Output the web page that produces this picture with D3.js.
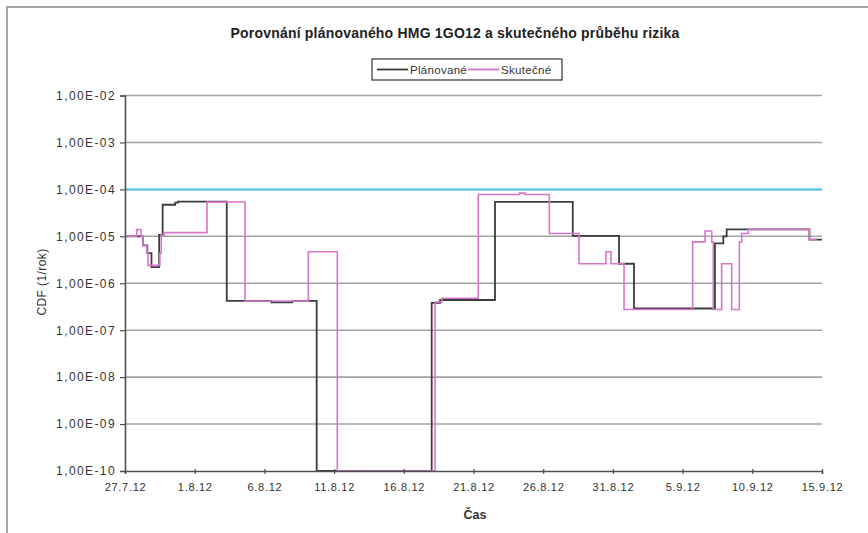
<!DOCTYPE html>
<html>
<head>
<meta charset="utf-8">
<script src="https://cdn.jsdelivr.net/npm/d3@7"></script>
<style>
  body { margin: 0; background: #fff; }
  svg { display: block; font-family: "Liberation Sans", Arial, sans-serif; }
</style>
</head>
<body>
<svg id="chart" width="868" height="533"></svg>
<script>
// Chart texts
var title = 'Porovnání plánovaného HMG 1GO12 a skutečného průběhu rizika';
var seriesNames = ['Plánované', 'Skutečné'];
var xTitle = 'Čas';
var yTitle = 'CDF (1/rok)';

// Axis ticks (x in days from 27.7.12)
var xTickDays = [0, 5, 10, 15, 20, 25, 30, 35, 40, 45, 50];
var xTickLabels = ['27.7.12', '1.8.12', '6.8.12', '11.8.12', '16.8.12', '21.8.12',
  '26.8.12', '31.8.12', '5.9.12', '10.9.12', '15.9.12'];
var yTickValues = [1e-2, 1e-3, 1e-4, 1e-5, 1e-6, 1e-7, 1e-8, 1e-9, 1e-10];
var yTickLabels = ['1,00E-02', '1,00E-03', '1,00E-04', '1,00E-05', '1,00E-06',
  '1,00E-07', '1,00E-08', '1,00E-09', '1,00E-10'];

// Limit line
var limitValue = 1e-4;

// Planned risk (step changes: day, value)
var plannedDays = [0, 1.3, 1.6, 1.9, 2.45, 2.7, 3.6, 3.8, 7.3, 10.5, 12.0, 13.75,
  22.0, 22.6, 26.54, 32.12, 35.44, 36.51, 42.32, 42.92, 43.16, 49.1, 50];
var plannedValues = [1.0e-5, 6.4e-6, 4.4e-6, 2.2e-6, 1.07e-5, 4.7e-5, 5.2e-5, 5.5e-5, 4.2e-7, 3.9e-7, 4.2e-7, 1e-10,
  3.8e-7, 4.4e-7, 5.4e-5, 1.02e-5, 2.6e-6, 2.9e-7, 7.1e-6, 1.0e-5, 1.4e-5, 8.5e-6, 8.5e-6];

// Actual risk (step changes: day, value)
var actualDays = [0, 0.84, 1.15, 1.3, 1.58, 1.65, 2.5, 2.6, 2.8, 5.88, 8.61, 13.15, 15.23,
  22.24, 22.72, 25.34, 28.3, 28.7, 30.44, 32.57, 34.5, 34.86, 35.8, 40.72, 41.61, 42.09,
  42.2, 42.8, 43.52, 44.07, 44.24, 44.71, 49.1, 49.62];
var actualValues = [1.0e-5, 1.4e-5, 1.0e-5, 6.4e-6, 4.4e-6, 2.4e-6, 4.4e-6, 1.07e-5, 1.2e-5, 5.4e-5, 4.2e-7, 4.7e-6, 1e-10,
  4.0e-7, 4.8e-7, 7.8e-5, 8.3e-5, 7.8e-5, 1.15e-5, 2.6e-6, 4.7e-6, 2.6e-6, 2.75e-7, 7.6e-6, 1.3e-5, 7.6e-6,
  2.75e-7, 2.6e-6, 2.75e-7, 7.6e-6, 1.15e-5, 1.4e-5, 8.5e-6, 8.5e-6];

var colors = { planned: '#3c3c3c', actual: '#d676ca', limit: '#63c4ec', grid: '#a3a3a3', axis: '#505050' };

var svg = d3.select('#chart');
var plot = { left: 125, right: 822, top: 95.5, bottom: 471 };

var xScale = d3.scaleLinear().domain([0, 50]).range([plot.left, plot.right]);
var yScale = d3.scaleLog().domain([1e-10, 1e-2]).range([plot.bottom, plot.top]);

// Outer frame
svg.append('path')
  .attr('d', 'M7,533V7H868')
  .attr('fill', 'none')
  .attr('stroke', '#8a8a8a')
  .attr('stroke-width', 1.5);

// Title
svg.append('text')
  .attr('x', 455).attr('y', 38)
  .attr('text-anchor', 'middle')
  .attr('font-size', 14).attr('font-weight', 'bold')
  .attr('letter-spacing', 0.2)
  .attr('fill', '#222')
  .text(title);

// Gridlines
svg.append('g')
  .selectAll('line')
  .data(yTickValues.filter(function (v) { return v !== limitValue && v !== 1e-10; }))
  .enter()
  .append('line')
  .attr('x1', plot.left).attr('x2', plot.right)
  .attr('y1', function (d) { return yScale(d); })
  .attr('y2', function (d) { return yScale(d); })
  .attr('stroke', colors.grid)
  .attr('stroke-width', 1.6);

// Limit line
svg.append('line')
  .attr('x1', plot.left).attr('x2', plot.right)
  .attr('y1', yScale(limitValue)).attr('y2', yScale(limitValue))
  .attr('stroke', colors.limit)
  .attr('stroke-width', 2.5);

// Step lines
var line = d3.line()
  .x(function (d) { return xScale(d[0]); })
  .y(function (d) { return yScale(d[1]); })
  .curve(d3.curveStepAfter);

svg.append('path')
  .datum(d3.zip(plannedDays, plannedValues))
  .attr('d', line)
  .attr('fill', 'none')
  .attr('stroke', colors.planned)
  .attr('stroke-width', 1.8);

svg.append('path')
  .datum(d3.zip(actualDays, actualValues))
  .attr('d', line)
  .attr('fill', 'none')
  .attr('stroke', colors.actual)
  .attr('stroke-width', 1.6);

// Axes
var yAxis = d3.axisLeft(yScale)
  .tickValues(yTickValues)
  .tickFormat(function (d, i) { return yTickLabels[i]; })
  .tickSize(5).tickPadding(4);

var xAxis = d3.axisBottom(xScale)
  .tickValues(xTickDays)
  .tickFormat(function (d, i) { return xTickLabels[i]; })
  .tickSize(3).tickPadding(9);

var gy = svg.append('g')
  .attr('transform', 'translate(' + plot.left + ',0)')
  .call(yAxis);

var gx = svg.append('g')
  .attr('transform', 'translate(0,' + plot.bottom + ')')
  .call(xAxis);

[gx, gy].forEach(function (g) {
  g.select('.domain').attr('stroke', colors.axis).attr('stroke-width', 1.6);
  g.selectAll('.tick line').attr('stroke', colors.axis).attr('stroke-width', 1.2);
  g.selectAll('.tick text')
    .attr('fill', '#333')
    .attr('font-family', '"Liberation Sans", Arial, sans-serif');
});
gx.selectAll('.tick line').attr('y1', -2);
gx.selectAll('.tick text').attr('font-size', 11).attr('letter-spacing', 0.7);
gy.selectAll('.tick text').attr('font-size', 12).attr('letter-spacing', 1.4);

// Axis titles
svg.append('text')
  .attr('x', 475).attr('y', 519)
  .attr('text-anchor', 'middle')
  .attr('font-size', 12.5).attr('font-weight', 'bold')
  .attr('fill', '#333')
  .text(xTitle);

svg.append('text')
  .attr('transform', 'translate(46,' + 282 + ') rotate(-90)')
  .attr('text-anchor', 'middle')
  .attr('font-size', 12)
  .attr('letter-spacing', 0.4)
  .attr('fill', '#333')
  .text(yTitle);

// Legend
var legend = svg.append('g').attr('transform', 'translate(372,59)');
legend.append('rect')
  .attr('width', 190).attr('height', 21)
  .attr('fill', '#fff')
  .attr('stroke', '#333').attr('stroke-width', 1.2);

var legendItems = [
  { name: seriesNames[0], color: colors.planned, x: 5 },
  { name: seriesNames[1], color: colors.actual, x: 96 }
];

legend.selectAll('g.item')
  .data(legendItems)
  .enter()
  .append('g')
  .attr('class', 'item')
  .attr('transform', function (d) { return 'translate(' + d.x + ',0)'; })
  .each(function (d) {
    var g = d3.select(this);
    g.append('line')
      .attr('x1', 0).attr('x2', 31)
      .attr('y1', 10.5).attr('y2', 10.5)
      .attr('stroke', d.color).attr('stroke-width', 1.8);
    g.append('text')
      .attr('x', 33).attr('y', 14.5)
      .attr('font-size', 11.5)
      .attr('letter-spacing', 0.3)
      .attr('fill', '#333')
      .text(d.name);
  });
</script>
</body>
</html>
